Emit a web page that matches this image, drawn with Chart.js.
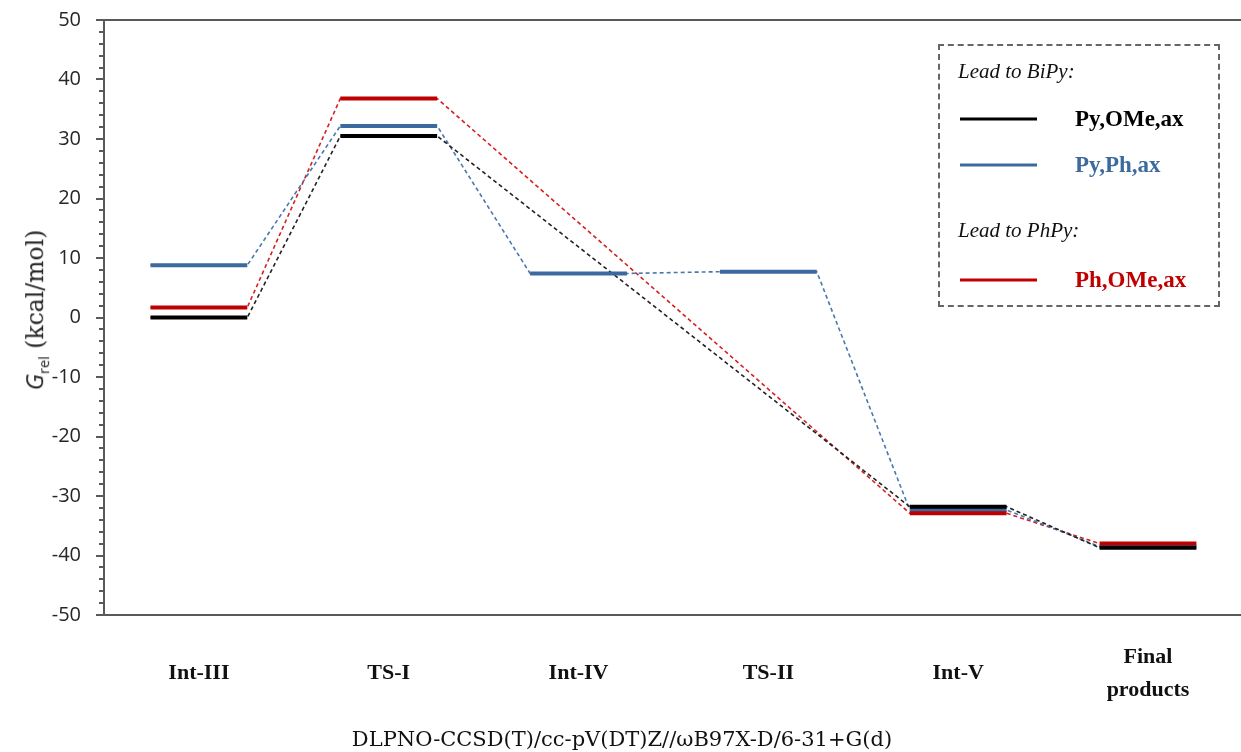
<!DOCTYPE html>
<html>
<head>
<meta charset="utf-8">
<script src="https://cdn.jsdelivr.net/npm/chart.js@4.4.0/dist/chart.umd.min.js"></script>
<style>
  html, body { margin: 0; padding: 0; background: #fff; }
  #wrap { position: relative; width: 1241px; height: 752px; overflow: hidden; }
  #c { position: absolute; left: 0; top: 0; }
  .ytitle { position: absolute; left: 35px; top: 310px; transform: translate(-50%, -50%) rotate(-90deg);
            white-space: nowrap; color: #222; font-family: "DejaVu Serif", serif; font-size: 23.5px; }
  .ytitle .g { font-family: "Open Sans", sans-serif; font-style: italic; font-size: 24px; }
  .ytitle sub { font-family: "Open Sans", sans-serif; font-size: 14.5px; }
  .xtitle { position: absolute; left: 622px; top: 739px; transform: translate(-50%, -50%);
            white-space: nowrap; color: #111; font-family: "DejaVu Serif", serif; font-size: 21px; }
  #legend { position: absolute; left: 938px; top: 44px; width: 278px; height: 259px;
            border: 2px dashed #666; font-family: "Liberation Serif", serif; }
  #legend .hd { position: absolute; left: 18px; font-style: italic; font-size: 21px; color: #111; transform: translateY(-50%); }
  #legend .ln { position: absolute; left: 20px; width: 77px; height: 3px; transform: translateY(-50%); }
  #legend .lb { position: absolute; left: 135px; font-weight: bold; font-size: 23px; transform: translateY(-50%); white-space: nowrap; }
</style>
</head>
<body>
<div id="wrap">
  <canvas id="c" width="1241" height="752"></canvas>
  <div class="ytitle"><span class="g">G</span><sub>rel</sub> (kcal/mol)</div>
  <div class="xtitle">DLPNO-CCSD(T)/cc-pV(DT)Z//ωB97X-D/6-31+G(d)</div>
  <div id="legend"></div>
</div>
<script>
// ---- data ----
const categories = ['Int-III', 'TS-I', 'Int-IV', 'TS-II', 'Int-V', ['Final', 'products']];
const pyOMeAx = [0, 30.5, null, null, -31.8, -38.7];      // Py,OMe,ax (black)
const pyPhAx  = [8.8, 32.2, 7.4, 7.7, -32.35, -38.5];     // Py,Ph,ax (blue)
const phOMeAx = [1.7, 36.8, null, null, -32.9, -38.0];    // Ph,OMe,ax (red)
const seriesNames = ['Py,OMe,ax', 'Py,Ph,ax', 'Ph,OMe,ax'];
const groupTitles = ['Lead to BiPy:', 'Lead to PhPy:'];
const yMin = -50, yMax = 50, yStep = 10, yMinorStep = 2;

// ---- styling ----
const COLORS = ['#000000', '#3d6a9e', '#c00000'];
const DASH_COLORS = ['#222222', '#4a78ad', '#d42020'];
const HALF = 0.255;   // half width of an energy level, in category units

function levelPoints(vals) {
  const pts = [];
  vals.forEach((v, i) => {
    if (v === null) return;
    if (pts.length) pts.push({ x: i - 0.5, y: null });
    pts.push({ x: i - HALF, y: v }, { x: i + HALF, y: v });
  });
  return pts;
}
function pathPoints(vals) {
  const pts = [];
  vals.forEach((v, i) => {
    if (v === null) return;
    pts.push({ x: i - HALF, y: v }, { x: i + HALF, y: v });
  });
  return pts;
}

const allSeries = [pyOMeAx, pyPhAx, phOMeAx];
const levelOrder = [1, 3, 2];
const datasets = [];
allSeries.forEach((vals, k) => {
  datasets.push({
    label: seriesNames[k] + ' path',
    data: pathPoints(vals),
    borderColor: DASH_COLORS[k],
    borderWidth: 1.6,
    borderDash: [4, 3],
    pointRadius: 0,
    order: 10 + k,
    spanGaps: true
  });
  datasets.push({
    label: seriesNames[k],
    data: levelPoints(vals),
    borderColor: COLORS[k],
    borderWidth: 4,
    borderCapStyle: 'butt',
    pointRadius: 0,
    order: levelOrder[k],
    spanGaps: false
  });
});

const minorTicks = {
  id: 'minorTicks',
  afterDraw(chart) {
    const y = chart.scales.y, ctx = chart.ctx;
    ctx.save();
    ctx.strokeStyle = '#595959';
    ctx.lineWidth = 2;
    for (let v = yMin; v <= yMax; v += yMinorStep) {
      if (v % yStep === 0) continue;
      const py = Math.round(y.getPixelForValue(v));
      ctx.beginPath();
      ctx.moveTo(chart.chartArea.left - 5, py);
      ctx.lineTo(chart.chartArea.left, py);
      ctx.stroke();
    }
    ctx.restore();
  }
};

new Chart(document.getElementById('c'), {
  type: 'line',
  data: { datasets },
  plugins: [minorTicks],
  options: {
    responsive: false,
    animation: false,
    devicePixelRatio: 1,
    layout: { padding: { top: 20, right: 0, left: 0, bottom: 0 } },
    plugins: { legend: { display: false }, tooltip: { enabled: false } },
    scales: {
      x: {
        type: 'linear',
        min: -0.5,
        max: 5.49,
        afterFit: s => { s.height = 137; s.paddingLeft = 0; s.paddingRight = 0; },
        afterBuildTicks: s => { s.ticks = categories.map((c, i) => ({ value: i })); },
        grid: { display: false },
        border: { display: true, color: '#595959', width: 2 },
        ticks: {
          autoSkip: false,
          maxRotation: 0,
          padding: 34,
          crossAlign: 'center',
          color: '#111',
          font: { family: 'Liberation Serif', size: 22, weight: 'bold', lineHeight: 1.5 },
          callback: v => categories[v]
        }
      },
      y: {
        min: yMin,
        max: yMax,
        afterFit: s => { s.width = 104; s.paddingTop = 0; s.paddingBottom = 0; },
        ticks: {
          stepSize: yStep,
          padding: 15,
          color: '#262626',
          font: { family: 'Open Sans', size: 20 }
        },
        grid: {
          drawOnChartArea: true,
          color: ctx => (ctx.tick && ctx.tick.value === yMax) ? '#595959' : 'rgba(0,0,0,0)',
          lineWidth: 2,
          tickColor: '#595959',
          tickLength: 8,
          tickWidth: 2
        },
        border: { display: true, color: '#595959', width: 2 }
      }
    }
  }
});

// ---- legend (HTML) ----
const legend = document.getElementById('legend');
const rows = [
  { type: 'hd', text: groupTitles[0], y: 25 },
  { type: 'item', k: 0, y: 73 },
  { type: 'item', k: 1, y: 119 },
  { type: 'hd', text: groupTitles[1], y: 184 },
  { type: 'item', k: 2, y: 234 }
];
rows.forEach(r => {
  if (r.type === 'hd') {
    const d = document.createElement('div');
    d.className = 'hd'; d.style.top = r.y + 'px'; d.textContent = r.text;
    legend.appendChild(d);
  } else {
    const l = document.createElement('div');
    l.className = 'ln'; l.style.top = r.y + 'px'; l.style.background = COLORS[r.k];
    legend.appendChild(l);
    const t = document.createElement('div');
    t.className = 'lb'; t.style.top = r.y + 'px'; t.style.color = COLORS[r.k]; t.textContent = seriesNames[r.k];
    legend.appendChild(t);
  }
});
</script>
</body>
</html>
